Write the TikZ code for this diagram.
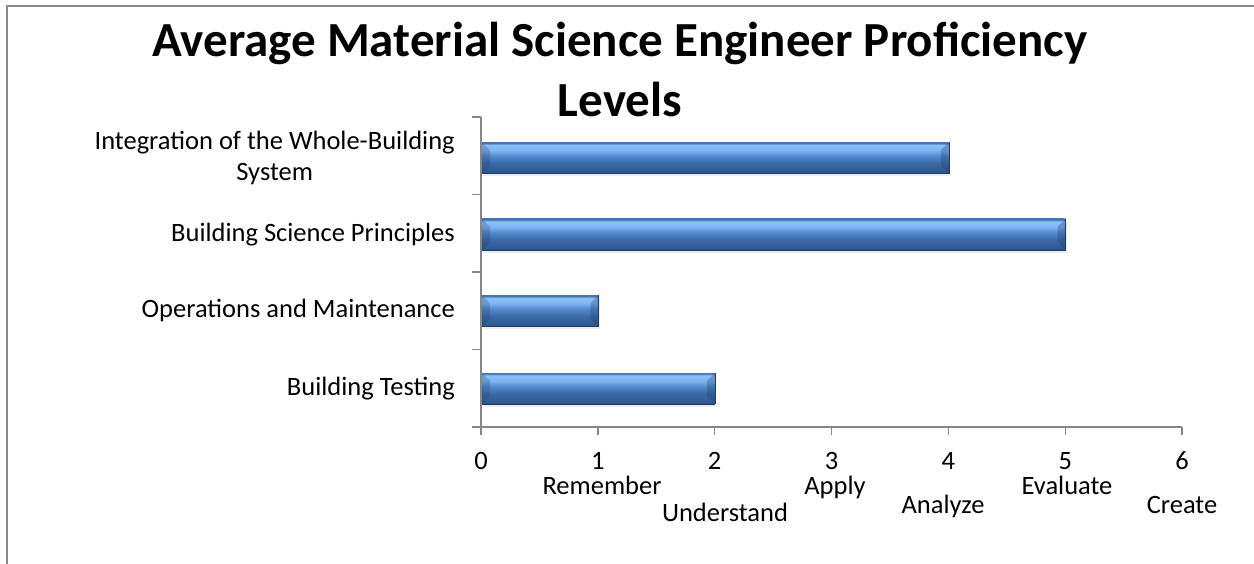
\documentclass[tikz,border=0pt]{standalone}
\usepackage{fontspec}
\setmainfont{Carlito}
\usetikzlibrary{calc,shadows}
\definecolor{bdark}{RGB}{32,60,100}
\definecolor{bbA}{RGB}{46,88,142}
\definecolor{bbB}{RGB}{60,106,168}
\definecolor{bbC}{RGB}{84,140,210}
\definecolor{bbD}{RGB}{128,180,240}
\definecolor{bbE}{RGB}{140,192,248}
\definecolor{btop}{RGB}{66,116,186}
\definecolor{axisgray}{RGB}{134,134,134}
\definecolor{framegray}{RGB}{138,138,138}
\pgfdeclareverticalshading{barshade}{100bp}{color(0bp)=(bdark); color(25bp)=(bdark); color(27bp)=(bbA); color(42bp)=(bbB); color(54bp)=(bbC); color(62bp)=(bbD); color(71bp)=(bbE); color(74bp)=(btop); color(100bp)=(btop)}
\newcommand{\lblfont}{\fontsize{26.5}{31}\selectfont}
\newcommand{\ttlfont}{\fontsize{49}{60}\selectfont\bfseries}
\begin{document}
\begin{tikzpicture}[x=1pt,y=-1pt,
  frame/.style={draw=framegray,line width=2pt},
  axisline/.style={draw=axisgray,line width=1.5pt},
  barnode/.style={rectangle,inner sep=0pt,minimum height=31pt,shading=barshade,
     drop shadow={opacity=0.15,shadow xshift=1.5pt,shadow yshift=-3pt}},
  bevelL/.style={fill=bdark,fill opacity=0.25},
  bevelR/.style={fill=bdark,fill opacity=0.3},
  catlbl/.style={font=\lblfont,inner sep=0pt,align=center,anchor=base east},
  numlbl/.style={font=\lblfont,inner sep=0pt,anchor=base},
  lvllbl/.style={font=\lblfont,inner sep=0pt,anchor=base},
  ttl/.style={font=\ttlfont,inner sep=0pt,align=center}]
\useasboundingbox (0,0) rectangle (1254,564);
\def\ux{116.85}
% frame
\coordinate (fb) at (7,570);
\coordinate (ftl) at (7,6);
\coordinate (ftr) at (1260,6);
\draw[frame] (fb) -- (ftl) -- (ftr);
% title
\node[ttl] (title) at (620,69) {Average Material Science Engineer Proficiency\\Levels};
% axes
\coordinate (o) at (481,427);
\coordinate (ytop) at (481,117);
\coordinate (xend) at (1182,427);
\coordinate (xl) at (472,427);
\draw[axisline] (ytop) -- (o) -- (xend);
\draw[axisline] (xl) -- (o);
\foreach \yy/\nm in {117/a,194.5/b,272/c,349.5/d}{
  \coordinate (yt\nm) at (472,\yy);
  \coordinate (ya\nm) at (481,\yy);
  \draw[axisline] (yt\nm) -- (ya\nm);
}
\foreach \i in {0,...,6}{
  \coordinate (xt\i) at ({481+\i*\ux},427);
  \coordinate (xb\i) at ({481+\i*\ux},435);
  \draw[axisline] (xt\i) -- (xb\i);
  \node[numlbl] (n\i) at ({481+\i*\ux},469) {\i};
}
% level labels
\node[lvllbl] (l1) at (602,494) {Remember};
\node[lvllbl] (l2) at (725,521) {Understand};
\node[lvllbl] (l3) at (835,494.5) {Apply};
\node[lvllbl] (l4) at (943,513) {Analyze};
\node[lvllbl] (l5) at (1067,494) {Evaluate};
\node[lvllbl] (l6) at (1182,513) {Create};
% category labels
\node[font=\lblfont,inner sep=0pt,align=center,anchor=east] (c1) at (455,158) {Integration of the Whole-Building\\System};
\node[catlbl] (c2) at (455,242) {Building Science Principles};
\node[catlbl] (c3) at (455,318) {Operations and Maintenance};
\node[catlbl] (c4) at (455,395) {Building Testing};
% bars
\foreach \nm/\v/\cy in {b1/4/158,b2/5/234.5,b3/1/311,b4/2/388.5}{
  \node[barnode,anchor=west,minimum width={\v*\ux-1}] (\nm) at (482,\cy) {};
  \fill[bevelL] (\nm.north west) -- ($(\nm.north west)+(8,8)$) -- ($(\nm.south west)+(8,-8)$) -- (\nm.south west) -- cycle;
  \fill[bevelR] (\nm.north east) -- ($(\nm.north east)+(-8,8)$) -- ($(\nm.south east)+(-8,-8)$) -- (\nm.south east) -- cycle;
  \draw[bdark,line width=0.6pt] (\nm.north east) -- (\nm.south east);
  \draw[bdark,line width=0.6pt] (\nm.south west) -- (\nm.south east);
}
\end{tikzpicture}
\end{document}
